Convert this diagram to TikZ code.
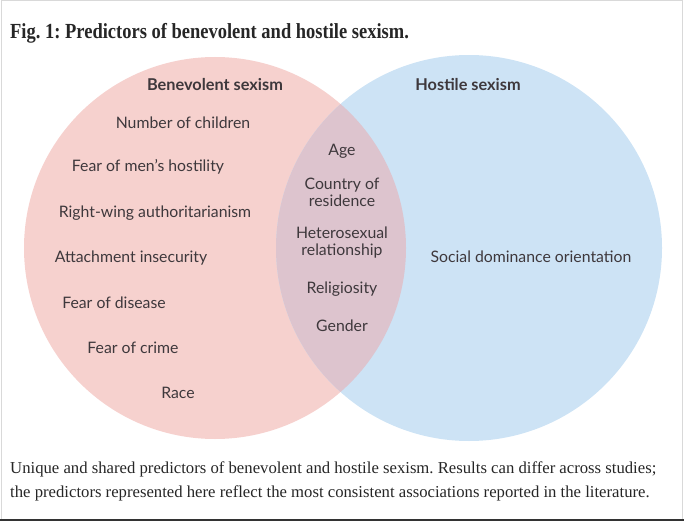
\documentclass[tikz,border=0pt]{standalone}
\usepackage{fontspec}
\setmainfont{Liberation Serif}
\newfontfamily\condserif[FakeStretch=0.86]{Liberation Serif}
\newfontfamily\labelfont{Lato}
\usetikzlibrary{positioning}
\definecolor{benpink}{RGB}{246,209,206}
\definecolor{hosblue}{RGB}{205,227,245}
\definecolor{bothmix}{RGB}{221,196,206}
\definecolor{inkgray}{RGB}{62,56,60}
\frenchspacing

\begin{document}
\begin{tikzpicture}[x=1pt, y=-1pt,
    item/.style={font=\labelfont\fontsize{15.8}{17}\selectfont, text=inkgray, align=center, inner sep=0pt},
    head/.style={item, font=\labelfont\bfseries\fontsize{16.3}{18}\selectfont},
    note/.style={anchor=base west, inner sep=0pt, font=\fontsize{16.7}{19}\selectfont, text=black!85}
]
\useasboundingbox (0,0) rectangle (684,521);
\draw[black!15, line width=1pt] (1,1) rectangle (682,520);
\draw[black!80, line width=2.5pt] (0,519.75) -- (684,519.75);

% the two sets and their overlap
\fill[benpink] (215,248) circle[radius=191pt];
\fill[hosblue] (469,248) circle[radius=193pt];
\begin{scope}
  \clip (215,248) circle[radius=191pt];
  \fill[bothmix] (469,248) circle[radius=193pt];
\end{scope}

\node[note, font=\condserif\bfseries\fontsize{21.5}{23}\selectfont] (title) at (10,39) {Fig. 1: Predictors of benevolent and hostile sexism.};

\node[head] (ben) at (215,85) {Benevolent sexism};
\node[head] (hos) at (468,85) {Hostile sexism};

% benevolent only
\node[item] (kids) at (183,123) {Number of children};
\node[item] (fearmen) at (148,167) {Fear of men’s hostility};
\node[item] (rwa) at (155,213) {Right-wing authoritarianism};
\node[item] (attach) at (131,258) {Attachment insecurity};
\node[item] (disease) at (114,303) {Fear of disease};
\node[item] (crime) at (133,348) {Fear of crime};
\node[item] (race) at (178,393) {Race};

% shared
\node[item] (age) at (342,151) {Age};
\node[item] (country) at (342,192) {Country of\\residence};
\node[item] (hetero) at (342,243) {Heterosexual\\relationship};
\node[item] (relig) at (342,289) {Religiosity};
\node[item] (gender) at (342,326) {Gender};

% hostile only
\node[item] (sdo) at (531,257) {Social dominance orientation};

\node[note] (cap1) at (10,473) {Unique and shared predictors of benevolent and hostile sexism. Results can differ across studies;};
\node[note] (cap2) at (10,497) {the predictors represented here reflect the most consistent associations reported in the literature.};
\end{tikzpicture}
\end{document}
